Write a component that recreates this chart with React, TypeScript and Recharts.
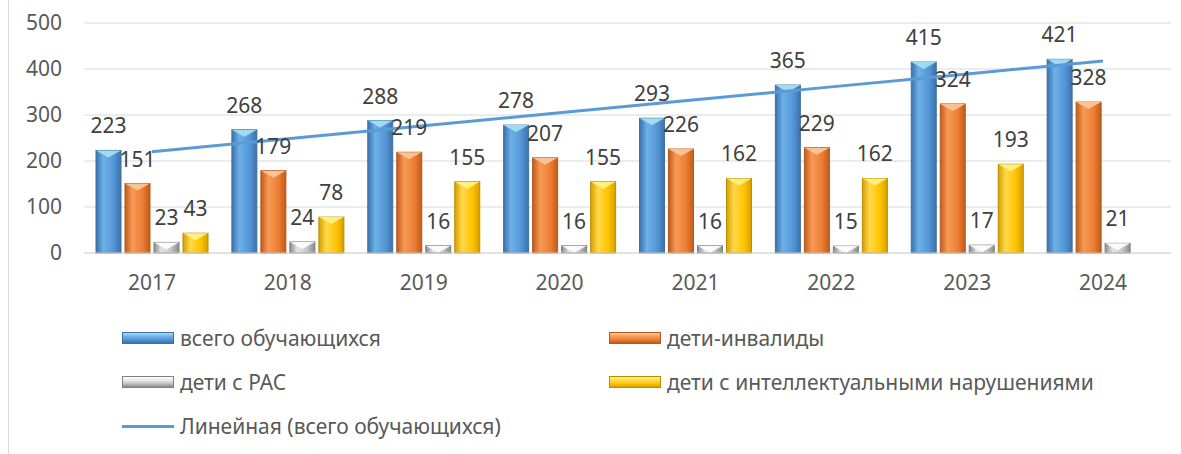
import React from 'react';
import {
  ComposedChart,
  Bar,
  Line,
  XAxis,
  YAxis,
  CartesianGrid,
  LabelList,
} from 'recharts';

const years = ['2017', '2018', '2019', '2020', '2021', '2022', '2023', '2024'];
const totalStudents = [223, 268, 288, 278, 293, 365, 415, 421];
const disabledChildren = [151, 179, 219, 207, 226, 229, 324, 328];
const autismChildren = [23, 24, 16, 16, 16, 15, 17, 21];
const intellectualChildren: (number | null)[] = [43, 78, 155, 155, 162, 162, 193, null];
const yTicks = [0, 100, 200, 300, 400, 500];

const FONT = '"Noto Sans", "Open Sans", sans-serif';
const TEXT = '#595959';
const FS = 21;

// linear trendline (least squares) over "всего обучающихся", like Excel does
const n = totalStudents.length;
const meanX = (n + 1) / 2;
const meanY = totalStudents.reduce((a, b) => a + b, 0) / n;
let sxy = 0;
let sxx = 0;
totalStudents.forEach((v, i) => {
  sxy += (i + 1 - meanX) * (v - meanY);
  sxx += (i + 1 - meanX) * (i + 1 - meanX);
});
const slope = sxy / sxx;

const data = years.map((year, i) => ({
  year,
  total: totalStudents[i],
  disabled: disabledChildren[i],
  autism: autismChildren[i],
  intellectual: intellectualChildren[i],
  trend: meanY + slope * (i + 1 - meanX),
}));

const SERIES = [
  { key: 'total', name: 'всего обучающихся', edge: '#3a72ad', light: '#6eb0e8', mid: '#5597d6', bevel: '#a6e1f7', stroke: '#41719c' },
  { key: 'disabled', name: 'дети-инвалиды', edge: '#c45a18', light: '#f79a55', mid: '#ec7f35', bevel: '#fcc89c', stroke: '#ae5a21' },
  { key: 'autism', name: 'дети с РАС', edge: '#8a8a8a', light: '#e6e6e6', mid: '#c4c4c4', bevel: '#ffffff', stroke: '#7f7f7f' },
  { key: 'intellectual', name: 'дети с интеллектуальными нарушениями', edge: '#d4a000', light: '#ffd84a', mid: '#ffc400', bevel: '#fff38a', stroke: '#bc8c00' },
];

const BevelBar = (props: any) => {
  const { x, y, width, height, gid, s } = props;
  if (height == null || height <= 0) return null;
  const b = Math.min(7, height);
  return (
    <g>
      <rect x={x} y={y} width={width} height={height} fill={`url(#${gid})`} stroke={s.stroke} strokeWidth={1} />
      <polygon points={`${x},${y} ${x + width},${y} ${x + width / 2},${y + b}`} fill={s.bevel} opacity={0.9} />
    </g>
  );
};

const LegendMarker = ({ s }: { s: any }) => (
  <span
    style={{
      display: 'inline-block',
      width: 50,
      height: 10,
      border: `1px solid ${s.stroke}`,
      background: `linear-gradient(to bottom, ${s.bevel} 0%, ${s.light} 35%, ${s.mid} 65%, ${s.edge} 100%)`,
      marginRight: 6,
      verticalAlign: 'middle',
    }}
  />
);

const legendItemStyle: React.CSSProperties = {
  position: 'absolute',
  display: 'flex',
  alignItems: 'center',
  fontFamily: FONT,
  fontSize: FS,
  color: TEXT,
  whiteSpace: 'nowrap',
};

export default function App() {
  return (
    <div style={{ position: 'absolute', left: 0, top: 0, width: 1181, height: 454, background: '#fff' }}>
      <div style={{ position: 'absolute', left: 8, top: 0, width: 1, height: 454, background: '#d9d9d9' }} />
      <ComposedChart
        width={1181}
        height={310}
        data={data}
        margin={{ top: 23, right: 10, left: 0, bottom: 27 }}
        barSize={25}
        barGap={4}
        style={{ fontFamily: FONT }}
      >
        <defs>
          {SERIES.map((s) => (
            <linearGradient key={s.key} id={`g-${s.key}`} x1="0" y1="0" x2="1" y2="0">
              <stop offset="0%" stopColor={s.edge} />
              <stop offset="30%" stopColor={s.light} />
              <stop offset="70%" stopColor={s.mid} />
              <stop offset="100%" stopColor={s.edge} />
            </linearGradient>
          ))}
        </defs>
        <CartesianGrid vertical={false} stroke="#d9d9d9" />
        <XAxis
          dataKey="year"
          height={30}
          axisLine={{ stroke: '#d9d9d9' }}
          tickLine={false}
          tickMargin={16}
          tick={{ fill: TEXT, fontSize: FS }}
        />
        <YAxis
          width={84}
          domain={[0, 500]}
          ticks={yTicks}
          axisLine={false}
          tickLine={false}
          tickSize={0}
          tickMargin={22}
          tick={{ fill: TEXT, fontSize: FS }}
        />
        {SERIES.map((s) => (
          <Bar
            key={s.key}
            dataKey={s.key}
            name={s.name}
            fill={s.mid}
            isAnimationActive={false}
            shape={(p: any) => <BevelBar {...p} gid={`g-${s.key}`} s={s} />}
          >
            <LabelList dataKey={s.key} position="top" offset={17} fill="#404040" fontSize={FS} />
          </Bar>
        ))}
        <Line
          dataKey="trend"
          name="Линейная (всего обучающихся)"
          stroke="#5b9bd5"
          strokeWidth={3}
          dot={false}
          activeDot={false}
          isAnimationActive={false}
        />
      </ComposedChart>

      <div style={{ ...legendItemStyle, left: 122, top: 324 }}>
        <LegendMarker s={SERIES[0]} />
        <span>{SERIES[0].name}</span>
      </div>
      <div style={{ ...legendItemStyle, left: 609, top: 324 }}>
        <LegendMarker s={SERIES[1]} />
        <span>{SERIES[1].name}</span>
      </div>
      <div style={{ ...legendItemStyle, left: 122, top: 368 }}>
        <LegendMarker s={SERIES[2]} />
        <span>{SERIES[2].name}</span>
      </div>
      <div style={{ ...legendItemStyle, left: 609, top: 368 }}>
        <LegendMarker s={SERIES[3]} />
        <span>{SERIES[3].name}</span>
      </div>
      <div style={{ ...legendItemStyle, left: 122, top: 412 }}>
        <span style={{ display: 'inline-block', width: 52, height: 3, background: '#5b9bd5', marginRight: 6 }} />
        <span>Линейная (всего обучающихся)</span>
      </div>
    </div>
  );
}
